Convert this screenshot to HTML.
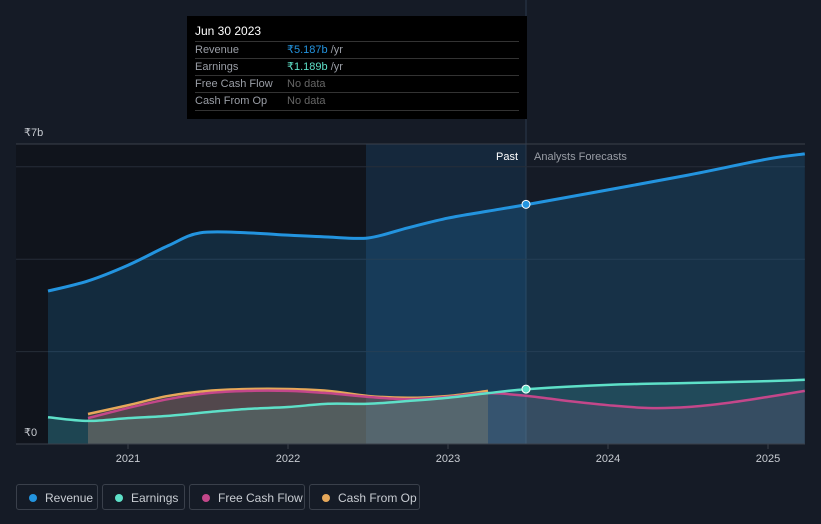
<!DOCTYPE html>
<html><head><meta charset="utf-8"><style>
body{margin:0;width:821px;height:524px;background:#151b26;font-family:"Liberation Sans",sans-serif;overflow:hidden;position:relative}
svg{position:absolute;left:0;top:0}
.tt{position:absolute;left:187px;top:16px;width:340px;height:103px;background:#000;color:#fff;font-size:12px}
.tt .row{position:absolute;left:8px;width:324px;border-top:1px solid #333;height:17px;line-height:17px;font-size:11px;color:#9a9ea6}
.tt .row span{position:absolute;left:92px}
.leg{position:absolute;top:484px;height:26px;border:1px solid #3a404b;border-radius:3px;color:#c8ccd2;font-size:12px;line-height:26px;box-sizing:border-box}
.leg i{position:absolute;left:12px;top:9px;width:8px;height:8px;border-radius:50%}
.leg b{font-weight:normal;position:absolute;left:28px}
</style></head><body>
<svg id="c" width="821" height="470"></svg>
<div class="tt">
<div style="position:absolute;left:8px;top:8px">Jun 30 2023</div>
<div class="row" style="top:25px">Revenue<span style="color:#2394df">₹5.187b <span style="position:static;color:#9a9ea6">/yr</span></span></div>
<div class="row" style="top:42px">Earnings<span style="color:#5ee0c8">₹1.189b <span style="position:static;color:#9a9ea6">/yr</span></span></div>
<div class="row" style="top:59px">Free Cash Flow<span style="color:#666">No data</span></div>
<div class="row" style="top:76px;border-bottom:1px solid #333">Cash From Op<span style="color:#666">No data</span></div>
</div>
<div class="leg" style="left:16px;width:82px"><i style="background:#2394df"></i><b>Revenue</b></div>
<div class="leg" style="left:102px;width:83px"><i style="background:#5ee0c8"></i><b>Earnings</b></div>
<div class="leg" style="left:189px;width:116px"><i style="background:#c3478a"></i><b>Free Cash Flow</b></div>
<div class="leg" style="left:309px;width:111px"><i style="background:#e6a85a"></i><b>Cash From Op</b></div>
<script>
const revX=[2020.5,2020.75,2021,2021.25,2021.45,2021.75,2022,2022.25,2022.5,2022.75,2023,2023.25,2023.5,2024,2024.5,2025,2025.23];
const revY=[3.31,3.53,3.87,4.29,4.57,4.57,4.52,4.48,4.46,4.68,4.89,5.04,5.187,5.50,5.82,6.17,6.28];
const earnX=[2020.5,2020.75,2021,2021.25,2021.5,2021.75,2022,2022.25,2022.5,2022.75,2023,2023.25,2023.5,2024,2024.5,2025,2025.23];
const earnY=[0.58,0.50,0.56,0.61,0.69,0.76,0.80,0.87,0.87,0.93,1.0,1.10,1.189,1.28,1.32,1.36,1.39];
const fcfX=[2020.75,2021,2021.25,2021.5,2021.75,2022,2022.25,2022.5,2022.75,2023,2023.25,2023.5,2023.75,2024,2024.25,2024.5,2024.75,2025,2025.23];
const fcfY=[0.56,0.78,0.97,1.10,1.15,1.15,1.10,1.02,0.97,1.02,1.10,1.04,0.93,0.84,0.78,0.80,0.89,1.02,1.15];
const cfoX=[2020.75,2021,2021.25,2021.5,2021.75,2022,2022.25,2022.5,2022.75,2023,2023.25];
const cfoY=[0.65,0.84,1.04,1.15,1.19,1.19,1.15,1.04,1.0,1.04,1.15];
const yearTicks=[2021,2022,2023,2024,2025];
const gridVals=[2,4,6];
const X=t=>128+(t-2021)*160, Y=v=>444-v*46.2;
const svg=document.getElementById('c'),NS='http://www.w3.org/2000/svg';
function el(tag,a,name){const e=document.createElementNS(NS,tag);for(const k in a)e.setAttribute(k,a[k]);


svg.appendChild(e);return e;}
function path(xs,ys){const P=xs.map((x,i)=>[X(x),Y(ys[i])]);let d='M'+P[0][0]+','+P[0][1];
for(let i=0;i<P.length-1;i++){const p0=P[Math.max(0,i-1)],p1=P[i],p2=P[i+1],p3=P[Math.min(P.length-1,i+2)];
const c1=[p1[0]+(p2[0]-p0[0])/6,p1[1]+(p2[1]-p0[1])/6],c2=[p2[0]-(p3[0]-p1[0])/6,p2[1]-(p3[1]-p1[1])/6];
d+=' C'+c1[0]+','+c1[1]+' '+c2[0]+','+c2[1]+' '+p2[0]+','+p2[1];}return d;}
function area(xs,ys){return path(xs,ys)+' L'+X(xs[xs.length-1])+',444 L'+X(xs[0])+',444 Z';}
const pastX=X(2023.5)-2;
el('rect',{x:16,y:144,width:350,height:300,fill:'#10141c'},'past-background');
el('rect',{x:366,y:144,width:pastX-366,height:300,fill:'#15283c'},'past-highlight');
el('line',{x1:pastX,y1:0,x2:pastX,y2:444,stroke:'#2a3a4c'},'now-line');
el('line',{x1:16,y1:144,x2:805,y2:144,stroke:'#3a404b'},'top-line');
gridVals.forEach(v=>el('line',{x1:16,y1:Y(v),x2:805,y2:Y(v),stroke:'#262d38'},'gridline'));
el('path',{d:area(revX,revY),fill:'rgba(35,148,223,0.18)'},'revenue-area');
el('path',{d:area(fcfX,fcfY),fill:'rgba(195,71,138,0.15)'},'fcf-area');
el('path',{d:area(cfoX,cfoY),fill:'rgba(230,168,90,0.2)'},'cfo-area');
el('path',{d:area(earnX,earnY),fill:'rgba(94,224,200,0.15)'},'earnings-area');
el('path',{d:path(cfoX,cfoY),fill:'none',stroke:'#e6a85a','stroke-width':2.5},'cfo-line');
el('path',{d:path(fcfX,fcfY),fill:'none',stroke:'#c3478a','stroke-width':2.5},'fcf-line');
el('path',{d:path(earnX,earnY),fill:'none',stroke:'#5ee0c8','stroke-width':2.5},'earnings-line');
el('path',{d:path(revX,revY),fill:'none',stroke:'#2394df','stroke-width':3},'revenue-line');
el('circle',{cx:pastX,cy:Y(5.187),r:4,fill:'#2394df',stroke:'#fff','stroke-width':1},'revenue-marker');
el('circle',{cx:pastX,cy:Y(1.189),r:4,fill:'#5ee0c8',stroke:'#fff','stroke-width':1},'earnings-marker');
el('line',{x1:16,y1:444,x2:805,y2:444,stroke:'#3a404b'},'x-axis');
yearTicks.forEach(t=>{el('line',{x1:X(t),y1:444,x2:X(t),y2:449,stroke:'#3a404b'},'x-tick');
const tx=el('text',{x:X(t),y:462,fill:'#c8ccd2','font-size':11,'text-anchor':'middle'},'x-tick-label');tx.textContent=t;});
const t1=el('text',{x:24,y:136,fill:'#c8ccd2','font-size':11},'y-label-top');t1.textContent='₹7b';
const t0=el('text',{x:24,y:436,fill:'#c8ccd2','font-size':11},'y-label-zero');t0.textContent='₹0';
const p=el('text',{x:518,y:160,fill:'#fff','font-size':11,'text-anchor':'end'},'past-label');p.textContent='Past';
const f=el('text',{x:534,y:160,fill:'#9a9ea6','font-size':11},'forecast-label');f.textContent='Analysts Forecasts';
</script>
</body></html>
